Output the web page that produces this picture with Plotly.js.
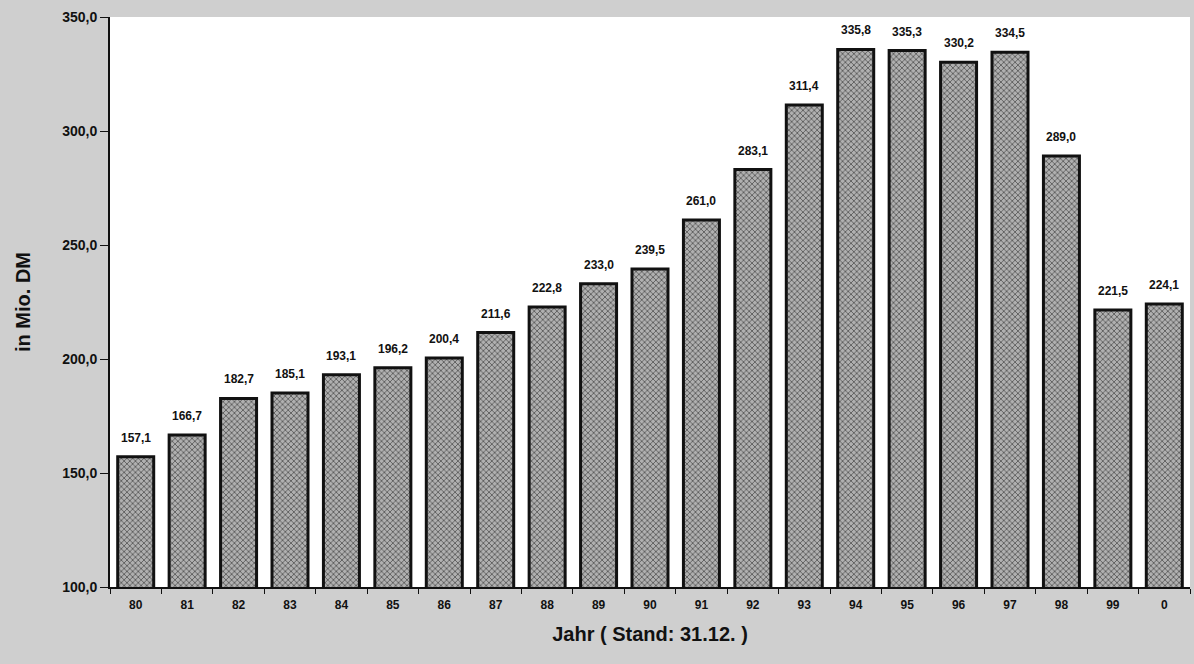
<!DOCTYPE html>
<html><head><meta charset="utf-8">
<script src="https://cdn.plot.ly/plotly-3.0.1.min.js"></script>
<style>html,body{margin:0;padding:0;background:#cfcfcf;}#chart{width:1194px;height:664px;}</style>
</head><body><div id="chart"></div>
<script>
const years = ["80","81","82","83","84","85","86","87","88","89","90","91","92","93","94","95","96","97","98","99","0"];
const values = [157.1,166.7,182.7,185.1,193.1,196.2,200.4,211.6,222.8,233.0,239.5,261.0,283.1,311.4,335.8,335.3,330.2,334.5,289.0,221.5,224.1];
const yTicks = [100,150,200,250,300,350];

const trace = {
  type: 'bar', x: years, y: values, width: 0.7,
  marker: {color: '#9c9c9c', line: {color: '#111', width: 3},
    pattern: {shape: 'x', fgcolor: '#3c3c3c', bgcolor: '#b0b0b0', size: 4, solidity: 0.3}},
  hoverinfo: 'skip'
};
const annotations = years.map((c, i) => ({
  x: i, y: values[i], xref: 'x', yref: 'y', text: values[i].toFixed(1).replace('.', ','), showarrow: false,
  yanchor: 'bottom', yshift: 10, font: {family: 'Arial, Liberation Sans', size: 12, color: '#111', weight: 'bold'}
}));
const layout = {
  width: 1194, height: 664,
  margin: {l: 110, r: 4, t: 17, b: 77},
  paper_bgcolor: '#cfcfcf', plot_bgcolor: '#ffffff',
  separators: ',.',
  showlegend: false, bargap: 0.3,
  font: {family: 'Arial, Liberation Sans', color: '#111'},
  xaxis: {type: 'category', range: [-0.5, years.length - 0.5], autorange: false,
    showline: true, linecolor: '#111', linewidth: 2, ticks: 'outside', ticklen: 5,
    tickson: 'boundaries', tickcolor: '#111', showgrid: false, tickangle: 0, ticklabelstandoff: 6,
    tickfont: {size: 12, weight: 'bold', color: '#111'},
    title: {text: 'Jahr ( Stand: 31.12. )', font: {size: 20, weight: 'bold', color: '#111'}, standoff: 16}},
  yaxis: {range: [100, 350], autorange: false, tickvals: yTicks, tickformat: '.1f', showline: true, linecolor: '#111', linewidth: 2,
    ticks: 'outside', ticklen: 8, tickcolor: '#111', showgrid: false, zeroline: false,
    tickfont: {size: 14, weight: 'bold', color: '#111'},
    title: {text: 'in Mio. DM', font: {size: 20, weight: 'bold', color: '#111'}, standoff: 26}},
  annotations: annotations
};
Plotly.newPlot('chart', [trace], layout, {displayModeBar: false, staticPlot: true});
</script></body></html>
